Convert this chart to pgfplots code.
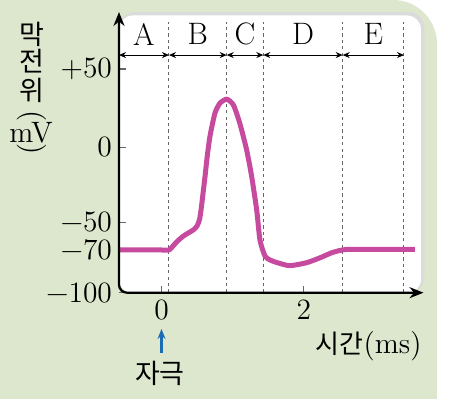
\documentclass[border=0pt]{standalone}
\usepackage{fontspec}
\usepackage{pgfplots}
\pgfplotsset{compat=1.18}
\usetikzlibrary{arrows.meta}
\newfontfamily\kr{Noto Sans CJK KR}
\definecolor{bggreen}{RGB}{221,231,205}
\definecolor{curvec}{RGB}{198,74,158}
\definecolor{stim}{RGB}{28,108,180}
\newcommand\nf{\fontsize{14.75}{16}\selectfont}
\begin{document}
\begin{tikzpicture}
\useasboundingbox (0pt,0pt) rectangle (231pt,199.5pt);
\begin{scope}[x=0.5pt,y=-0.5pt,shift={(0pt,199.5pt)}]
  \fill[white] (0,0) rectangle (462,399);
  \fill[bggreen] (0,399) -- (0,0) [rounded corners=22] -- (437,0) [sharp corners] -- (437,399) -- cycle;
  \fill[gray!28, rounded corners=8] (119,12) rectangle (424.5,293);
  \fill[white, rounded corners=7] (119,15.5) rectangle (421,293);
  % y label
  \node[font=\kr\fontsize{13.5}{15}\selectfont] at (32,34) {막};
  \node[font=\kr\fontsize{13.5}{15}\selectfont] at (32,61) {전};
  \node[font=\kr\fontsize{13.5}{15}\selectfont] at (32,90) {위};
  \node[font=\nf, rotate=-90, inner sep=0pt] at (32,116) {(};
  \node[font=\nf, inner sep=0pt] at (31,133) {mV};
  \node[font=\nf, rotate=-90, inner sep=0pt] at (32,149) {)};
  % x label
  \node[anchor=east, inner sep=0pt] at (422,346) {{\kr\fontsize{13}{15}\selectfont 시간}{\nf(ms)}};
  % stimulus
  \draw[stim, line width=1.1pt, -{Stealth[length=5pt,width=4pt]}] (161.5,353) -- (161.5,329);
  \node[font=\kr\fontsize{13.5}{15}\selectfont] at (160,373) {자극};
\end{scope}
\begin{axis}[
  at={(59.5pt,53.15pt)}, anchor=south west,
  scale only axis, width=152.25pt, height=140.35pt,
  xmin=-0.597, xmax=3.68, ymin=-100, ymax=86.4,
  y coord trafo/.code={\pgfmathparse{((#1)>=0)*1.566*(#1) + and((#1)<0,(#1)>=-50)*1.5*(#1) + and((#1)<-50,(#1)>=-70)*(-75+1.385*((#1)+50)) + ((#1)<-70)*(-102.7+1.423*((#1)+70))}},
  axis lines=left, axis line style={draw=none},
  xtick={0,2}, xticklabels={0,2},
  ytick={-100,-70,-50,0,50}, yticklabels={−100,−70,−50,0,+50},
  tick align=inside, major tick length=3.5pt,
  tick style={black!60, line width=0.6pt},
  ticklabel style={font=\nf},
  clip=false,
]
  % phase boundaries
  \foreach \xb in {0.105,0.916,1.43,2.545,3.406}{
    \edef\tmp{\noexpand\draw[black!60, line width=0.5pt, dash pattern=on 1.6pt off 1.6pt] (axis cs:\xb,-100) -- (axis cs:\xb,80);}\tmp
  }
  % phase arrows
  \draw[{Stealth[length=3.5pt,width=3pt]}-{Stealth[length=3.5pt,width=3pt]}, line width=0.5pt] (axis cs:-0.597,58.9) -- (axis cs:0.105,58.9);
  \draw[{Stealth[length=3.5pt,width=3pt]}-{Stealth[length=3.5pt,width=3pt]}, line width=0.5pt] (axis cs:0.105,58.9) -- (axis cs:0.916,58.9);
  \draw[{Stealth[length=3.5pt,width=3pt]}-{Stealth[length=3.5pt,width=3pt]}, line width=0.5pt] (axis cs:0.916,58.9) -- (axis cs:1.43,58.9);
  \draw[{Stealth[length=3.5pt,width=3pt]}-{Stealth[length=3.5pt,width=3pt]}, line width=0.5pt] (axis cs:1.43,58.9) -- (axis cs:2.545,58.9);
  \draw[{Stealth[length=3.5pt,width=3pt]}-{Stealth[length=3.5pt,width=3pt]}, line width=0.5pt] (axis cs:2.545,58.9) -- (axis cs:3.406,58.9);
  \node[font=\fontsize{15.5}{17}\selectfont] at (axis cs:-0.246,72.3) {A};
  \node[font=\fontsize{15.5}{17}\selectfont] at (axis cs:0.51,72.3) {B};
  \node[font=\fontsize{15.5}{17}\selectfont] at (axis cs:1.173,72.3) {C};
  \node[font=\fontsize{15.5}{17}\selectfont] at (axis cs:1.99,72.3) {D};
  \node[font=\fontsize{15.5}{17}\selectfont] at (axis cs:2.976,72.3) {E};
  % membrane potential
  \addplot[curvec, line width=2.5pt, smooth, tension=0.4] coordinates {
    (-0.597,-70) (0.0,-70) (0.105,-70) (0.16,-67.2) (0.22,-63.8) (0.30,-60.2)
    (0.38,-57.6) (0.45,-55.4) (0.50,-52.6) (0.535,-48) (0.56,-40)
    (0.585,-30) (0.61,-20) (0.64,-7) (0.68,6.8) (0.75,21.7)
    (0.82,28.1) (0.916,30.7) (1.01,27) (1.10,15.3) (1.196,-1.8) (1.267,-19.6)
    (1.337,-41.8) (1.383,-62.8) (1.453,-74.2) (1.524,-77) (1.62,-78.8) (1.80,-81)
    (2.04,-78.9) (2.23,-75.4) (2.41,-71.6) (2.6,-69.6) (3.0,-69.5) (3.56,-69.5)
  };
  % axis lines
  \draw[line width=1.1pt, rounded corners=4pt, {Stealth[length=7pt,width=5.5pt]}-{Stealth[length=7pt,width=5.5pt]}]
    (rel axis cs:0,1) -- (rel axis cs:0,0) -- (rel axis cs:1,0);
\end{axis}
\end{tikzpicture}
\end{document}
